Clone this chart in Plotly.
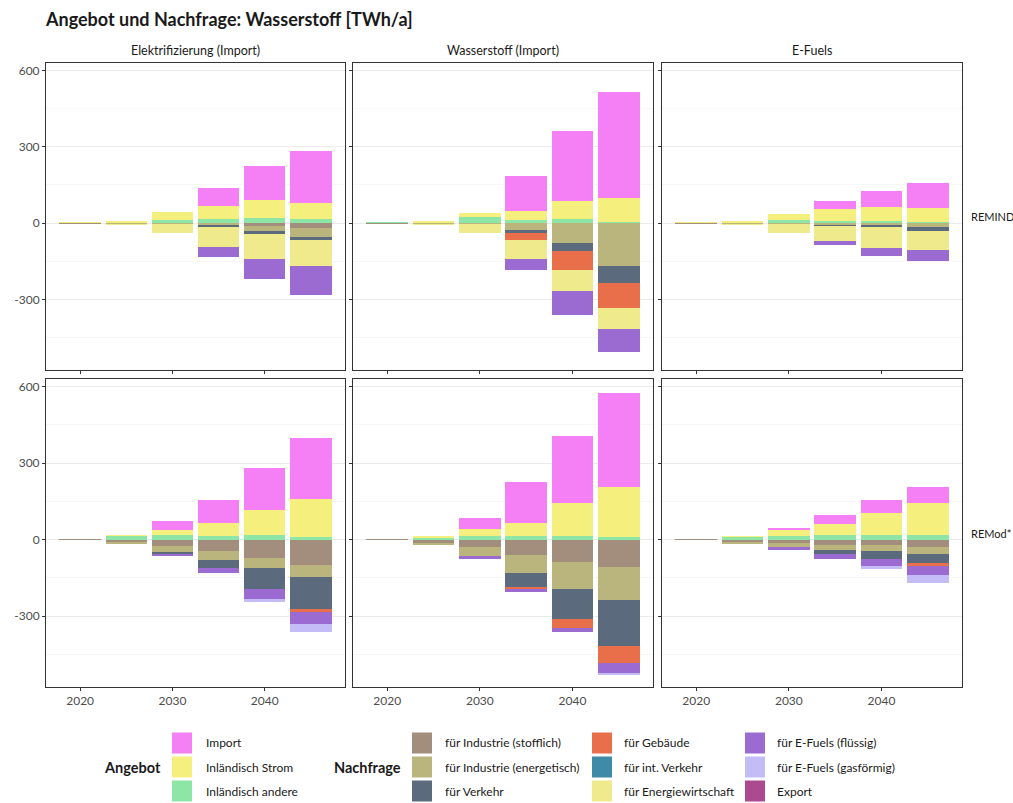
import plotly.graph_objects as go
from plotly.subplots import make_subplots

# ---------------- data ----------------
years = [2020, 2025, 2030, 2035, 2040, 2045]
scenarios = ["Elektrifizierung (Import)", "Wasserstoff (Import)", "E-Fuels"]
models = ["REMIND", "REMod*"]
# panel order: REMIND x 3 scenarios, then REMod* x 3 scenarios

# Angebot (supply, positive)
imp = [[0, 0, 0, 71, 136, 203],
       [0, 0, 0, 139, 273, 417],
       [0, 0, 0, 33, 65, 96],
       [0, 0, 39, 89, 164, 238],
       [0, 0, 46, 162, 264, 367],
       [0, 0, 10, 35, 50, 63]]
strom = [[1, 4, 30, 53, 69, 63],
         [0, 3, 15, 35, 71, 93],
         [1, 4, 25, 48, 56, 56],
         [0, 1, 19, 53, 99, 147],
         [0, 1, 27, 53, 130, 197],
         [0, 1, 23, 45, 89, 125]]
andere = [[1, 2, 12, 16, 20, 16],
          [1, 3, 25, 13, 17, 5],
          [1, 2, 12, 7, 7, 5],
          [1, 15, 17, 13, 17, 12],
          [1, 10, 13, 13, 13, 11],
          [1, 12, 13, 17, 17, 17]]

# Nachfrage (demand, negative)
stofflich = [[-1, -2, 0, 0, -12, -20],
             [-1, -2, 0, 0, 0, 0],
             [-1, -2, 0, 0, 0, 0],
             [-1, -12, -25, -46, -73, -99],
             [-1, -14, -30, -60, -89, -108],
             [-1, -10, -15, -20, -23, -28]]
energetisch = [[0, -2, -5, -10, -21, -35],
               [0, -2, -4, -28, -78, -170],
               [0, -2, -4, -8, -9, -17],
               [0, -6, -22, -33, -39, -49],
               [0, -6, -36, -72, -105, -130],
               [0, -8, -15, -20, -23, -29]]
verkehr = [[0, 0, 0, -5, -9, -13],
           [0, 0, 0, -11, -33, -66],
           [0, 0, 0, -3, -8, -13],
           [0, 0, -8, -31, -82, -123],
           [0, 0, 0, -53, -119, -179],
           [0, 0, 0, -17, -29, -36]]
gebaeude = [[0, 0, 0, 0, 0, 0],
            [0, 0, 0, -26, -72, -98],
            [0, 0, 0, 0, 0, 0],
            [0, 0, 0, 0, 0, -11],
            [0, 0, 0, -9, -34, -68],
            [0, 0, 0, 0, 0, -9]]
int_verkehr = [[0, 0, 0, 0, 0, 0]] * 6
energiewirtschaft = [[0, -3, -32, -80, -99, -102],
                     [0, -2, -36, -75, -85, -83],
                     [0, -3, -33, -60, -81, -77],
                     [0, 0, 0, 0, 0, 0],
                     [0, 0, 0, 0, 0, 0],
                     [0, 0, 0, 0, 0, 0]]
fluessig = [[0, 0, 0, -40, -79, -112],
            [0, 0, 0, -45, -94, -91],
            [0, 0, 0, -15, -30, -43],
            [0, 0, -10, -22, -37, -49],
            [0, 0, -9, -11, -17, -37],
            [0, 0, -10, -18, -28, -37]]
gasfoermig = [[0, 0, 0, 0, 0, 0],
              [0, 0, 0, 0, 0, 0],
              [0, 0, 0, 0, 0, 0],
              [0, 0, 0, 0, -14, -33],
              [0, 0, 0, 0, 0, -8],
              [0, 0, 0, 0, -13, -33]]
export = [[0, 0, 0, 0, 0, 0]] * 6

y_ticks = [-300, 0, 300, 600]
y_tick_labels = ["-300", "0", "300", "600"]
x_ticks = [2020, 2030, 2040]

# ---------------- styles ----------------
FONT = "Lato"
supply = [("Import", imp, "#f57ff5"),
          ("Inländisch Strom", strom, "#f5f07d"),
          ("Inländisch andere", andere, "#8ee6a6")]
demand = [("für Industrie (stofflich)", stofflich, "#a38d7d"),
          ("für Industrie (energetisch)", energetisch, "#b9b57d"),
          ("für Verkehr", verkehr, "#5b6a7c"),
          ("für Gebäude", gebaeude, "#e96f4b"),
          ("für int. Verkehr", int_verkehr, "#3f8aa6"),
          ("für Energiewirtschaft", energiewirtschaft, "#efea8c"),
          ("für E-Fuels (flüssig)", fluessig, "#9b6bd1"),
          ("für E-Fuels (gasförmig)", gasfoermig, "#c3bcf7"),
          ("Export", export, "#ad4a8f")]

W, H = 1013, 803
ML, MR, MT, MB = 46, 51, 63, 116
PW, PH = W - ML - MR, H - MT - MB


def px_x(x):
    return (x - ML) / PW


def px_y(y):
    return (H - MB - y) / PH


fig = make_subplots(rows=2, cols=3)

# stacking order for barmode 'relative': first trace nearest zero
stack_order = [supply[2], supply[1], supply[0]] + demand
for p in range(6):
    r, c = p // 3 + 1, p % 3 + 1
    for name, arr, col in stack_order:
        fig.add_trace(go.Bar(x=years, y=arr[p], name=name, width=4.5,
                             marker=dict(color=col, line=dict(width=0)),
                             showlegend=False,
                             hovertemplate=name + ": %{y}<extra></extra>"),
                      row=r, col=c)

col_dom = [(px_x(46), px_x(345)), (px_x(353), px_x(653)), (px_x(662), px_x(962))]
row_dom = [(px_y(370), px_y(63)), (px_y(687), px_y(379))]

for p in range(6):
    r, c = p // 3, p % 3
    idx = "" if p == 0 else str(p + 1)
    fig.layout["xaxis" + idx].update(
        domain=list(col_dom[c]), range=[2016.3, 2048.7], tickvals=x_ticks,
        showticklabels=(r == 1), ticks="outside", ticklen=3, tickcolor="#333333",
        showgrid=False, zeroline=False, showline=True, mirror=True,
        linecolor="#333333", linewidth=1,
        tickfont=dict(family=FONT, size=12, color="#4d4d4d"))
    fig.layout["yaxis" + idx].update(
        domain=list(row_dom[r]), range=[-578, 630], tickvals=y_ticks,
        ticktext=y_tick_labels,
        showticklabels=(c == 0), ticks="outside", ticklen=3, tickcolor="#333333",
        showgrid=True, gridcolor="#ebebeb", gridwidth=1, zeroline=False,
        minor=dict(tickvals=[-450, -150, 150, 450], showgrid=True,
                   gridcolor="#f6f6f6", gridwidth=1, ticks=""),
        showline=True, mirror=True, linecolor="#333333", linewidth=1,
        tickfont=dict(family=FONT, size=12, color="#4d4d4d"))

annotations = []
# column strips
for c, s in enumerate(scenarios):
    annotations.append(dict(text=s, x=(col_dom[c][0] + col_dom[c][1]) / 2,
                            y=px_y(50), xref="paper", yref="paper",
                            showarrow=False, xanchor="center", yanchor="middle",
                            font=dict(family=FONT, size=12.5, color="#1a1a1a")))
# row strips
for r, m in enumerate(models):
    annotations.append(dict(text=m, x=px_x(969), y=(row_dom[r][0] + row_dom[r][1]) / 2,
                            xref="paper", yref="paper", showarrow=False,
                            xanchor="left", yanchor="middle",
                            font=dict(family=FONT, size=11, color="#1a1a1a")))

# manual legend
shapes = []
row_y = [743, 767, 791]
sw, shh = 20, 21


def add_item(x_sw, x_lab, y_c, label, color):
    shapes.append(dict(type="rect", xref="paper", yref="paper",
                       x0=px_x(x_sw), x1=px_x(x_sw + sw),
                       y0=px_y(y_c + shh / 2), y1=px_y(y_c - shh / 2),
                       fillcolor=color, line=dict(width=0), layer="above"))
    annotations.append(dict(text=label, x=px_x(x_lab), y=px_y(y_c),
                            xref="paper", yref="paper", showarrow=False,
                            xanchor="left", yanchor="middle",
                            font=dict(family=FONT, size=12, color="#1a1a1a")))


for i, (name, _, col) in enumerate(supply):
    add_item(172, 204, row_y[i], name, col)
legend_cols = [(412, 443), (592, 622), (745, 775)]
for i, (name, _, col) in enumerate(demand):
    xs, xl = legend_cols[i // 3]
    add_item(xs, xl, row_y[i % 3], name, col)

annotations.append(dict(text="<b>Angebot</b>", x=px_x(163), y=px_y(767),
                        xref="paper", yref="paper", showarrow=False,
                        xanchor="right", yanchor="middle",
                        font=dict(family=FONT, size=14.5, color="#1a1a1a")))
annotations.append(dict(text="<b>Nachfrage</b>", x=px_x(403), y=px_y(767),
                        xref="paper", yref="paper", showarrow=False,
                        xanchor="right", yanchor="middle",
                        font=dict(family=FONT, size=14.5, color="#1a1a1a")))

fig.update_layout(
    width=W, height=H, barmode="relative", bargap=0,
    margin=dict(l=ML, r=MR, t=MT, b=MB, autoexpand=False),
    paper_bgcolor="white", plot_bgcolor="white",
    title=dict(text="<b>Angebot und Nachfrage: Wasserstoff [TWh/a]</b>",
               x=46 / W, y=1 - 20 / H, xanchor="left", yanchor="middle",
               font=dict(family=FONT, size=18, color="#1a1a1a")),
    annotations=annotations, shapes=shapes,
    font=dict(family=FONT),
)

fig.write_html("out.html",
               config={"displayModeBar": False},
               post_script="document.body.style.margin='0';"
                           "document.body.style.overflow='hidden';")
